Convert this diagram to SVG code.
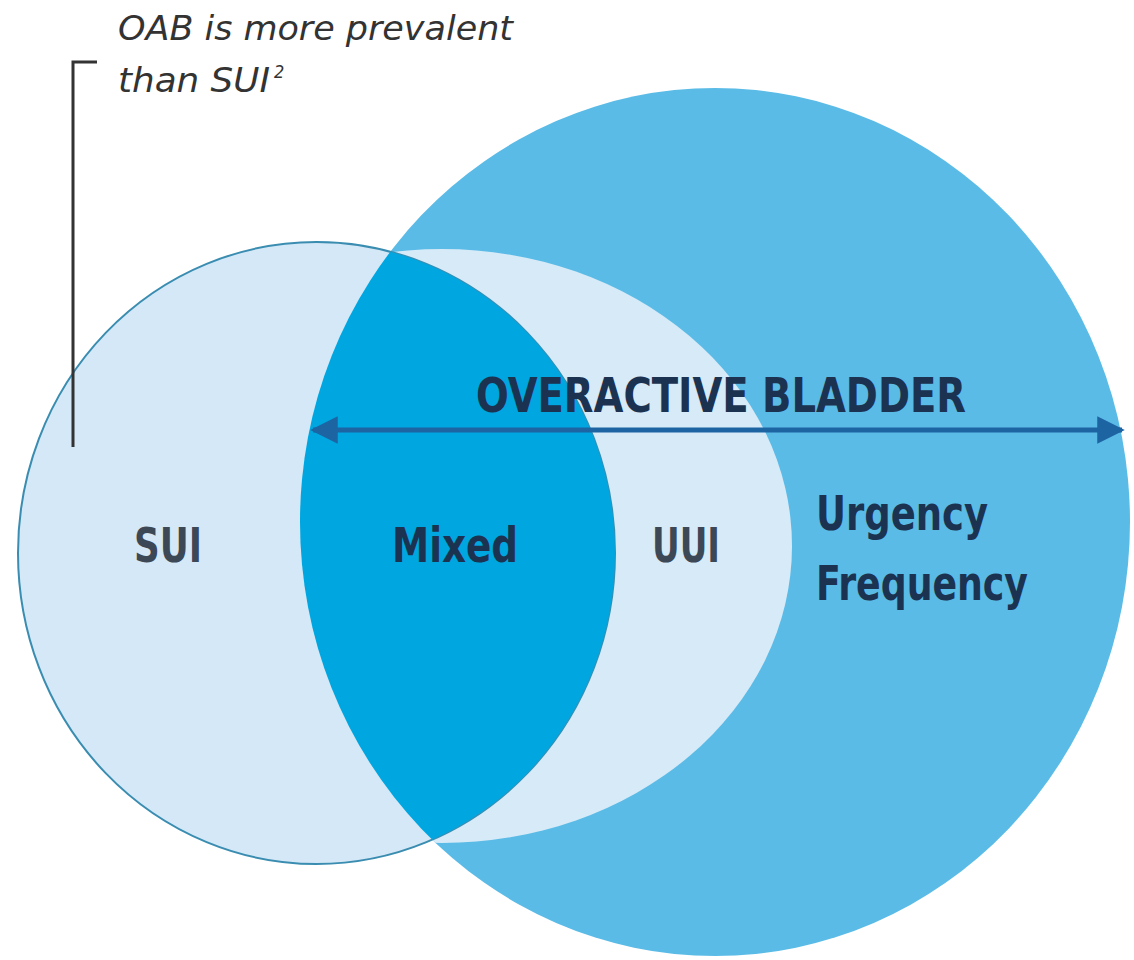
<svg xmlns="http://www.w3.org/2000/svg" width="1134" height="960" viewBox="0 0 1134 960">
  <style>
    .lbl { font-family: "Liberation Sans Narrow", "DejaVu Sans Condensed", "Liberation Sans", sans-serif; font-weight: bold; font-size: 48px; }
    .navy { fill: #1b3350; }
    .grey { fill: #3c4856; }
    .note { font-family: "Liberation Sans Narrow", "DejaVu Sans Condensed", "Liberation Sans", sans-serif; font-style: italic; font-size: 34px; fill: #333333; }
  </style>
  <defs>
    <clipPath id="oabClip"><ellipse cx="715" cy="522" rx="415" ry="434"/></clipPath>
    <clipPath id="suiClip"><ellipse cx="316.5" cy="553" rx="298.5" ry="311"/></clipPath>
    <marker id="arrowHead" viewBox="0 0 10 10" refX="9" refY="5" markerWidth="8" markerHeight="5.5" orient="auto-start-reverse" markerUnits="strokeWidth">
      <path d="M0,0 L10,5 L0,10 Z" fill="#1d64a3"/>
    </marker>
  </defs>
  <rect width="1134" height="960" fill="#ffffff"/>

  <g id="oab">
    <ellipse cx="715" cy="522" rx="415" ry="434" fill="#5abbe7"/>
  </g>
  <g id="uui">
    <ellipse cx="442" cy="546" rx="350" ry="297" fill="#d6eaf8" clip-path="url(#oabClip)"/>
  </g>
  <g id="sui">
    <ellipse cx="316.5" cy="553" rx="298.5" ry="311" fill="#d4e8f7" stroke="#3a8db0" stroke-width="2"/>
  </g>
  <g id="mixed">
    <g clip-path="url(#suiClip)">
      <ellipse cx="715" cy="522" rx="415" ry="434" fill="#00a6e0"/>
    </g>
  </g>

  <g id="connectors">
    <line x1="313" y1="430" x2="1122" y2="430" stroke="#1d64a3" stroke-width="5" marker-start="url(#arrowHead)" marker-end="url(#arrowHead)"/>
    <polyline points="97,62 73,62 73,447" fill="none" stroke="#333333" stroke-width="3"/>
  </g>

  <g id="labels">
    <text class="lbl navy" x="476" y="412" textLength="490" lengthAdjust="spacingAndGlyphs">OVERACTIVE BLADDER</text>
    <text class="lbl grey" x="134" y="562" textLength="68" lengthAdjust="spacingAndGlyphs">SUI</text>
    <text class="lbl navy" x="392" y="562" textLength="126" lengthAdjust="spacingAndGlyphs">Mixed</text>
    <text class="lbl grey" x="652" y="562" textLength="68" lengthAdjust="spacingAndGlyphs">UUI</text>
    <text class="lbl navy" x="816" y="530" textLength="172" lengthAdjust="spacingAndGlyphs">Urgency</text>
    <text class="lbl navy" x="816" y="600" textLength="212" lengthAdjust="spacingAndGlyphs">Frequency</text>
    <text class="note" x="118" y="40" textLength="395" lengthAdjust="spacingAndGlyphs">OAB is more prevalent</text>
    <text class="note" x="118" y="92"><tspan textLength="152" lengthAdjust="spacingAndGlyphs">than SUI</tspan><tspan font-size="18" dx="4" dy="-14">2</tspan></text>
  </g>
</svg>
